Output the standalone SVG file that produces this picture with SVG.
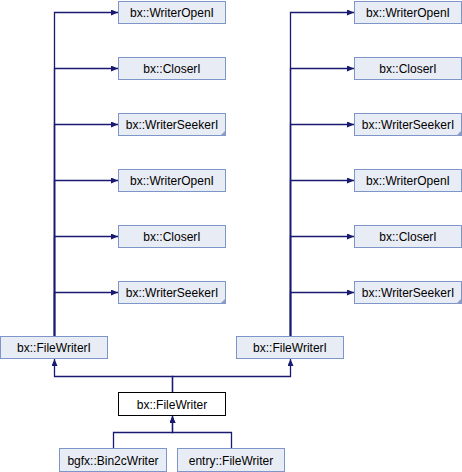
<svg xmlns="http://www.w3.org/2000/svg" width="462" height="472" viewBox="0 0 462 472">
<style>
.n rect{fill:#e8ecf5;stroke:#7d95c9;stroke-width:1}
.n.cur rect{fill:#ffffff;stroke:#000000}
.n text{font-family:"Liberation Sans",Arial,sans-serif;font-size:12px;fill:#000;text-anchor:middle}
.n path{fill:#8a9cc8;stroke:none}
#edges path{fill:none;stroke:#191970;stroke-width:1.3;marker-end:url(#ah)}
</style>
<defs>
<marker id="ah" markerUnits="userSpaceOnUse" markerWidth="8" markerHeight="7" refX="7" refY="3" orient="auto">
<path d="M0,0 L7,3 L0,6 z" fill="#191970"/>
</marker>
</defs>
<rect width="462" height="472" fill="#fff"/>
<g id="edges">
<path d="M54.5,336 V12.5 H118"/>
<path d="M54.5,336 V68.5 H118"/>
<path d="M54.5,336 V124.5 H118"/>
<path d="M54.5,336 V180.5 H118"/>
<path d="M54.5,336 V236.5 H118"/>
<path d="M54.5,336 V292.5 H118"/>
<path d="M290.5,336 V12.5 H354"/>
<path d="M290.5,336 V68.5 H354"/>
<path d="M290.5,336 V124.5 H354"/>
<path d="M290.5,336 V180.5 H354"/>
<path d="M290.5,336 V236.5 H354"/>
<path d="M290.5,336 V292.5 H354"/>
<path d="M172.5,392 V376.5 H54.5 V359"/>
<path d="M172.5,392 V376.5 H290.5 V359"/>
<path d="M113.5,448 V432.5 H172.5 V416"/>
<path d="M231.5,448 V432.5 H172.5 V416"/>
</g>
<g id="l_writeropen1" class="n"><rect x="118.5" y="1.5" width="107" height="22"/><text x="172" y="17">bx::WriterOpenI</text></g>
<g id="l_closer1" class="n"><rect x="118.5" y="57.5" width="107" height="22"/><text x="172" y="73">bx::CloserI</text></g>
<g id="l_seeker1" class="n"><rect x="118.5" y="113.5" width="107" height="22"/><text x="172" y="129">bx::WriterSeekerI</text><path d="M225.5,130.5 V135.5 H220.5 z"/></g>
<g id="l_writeropen2" class="n"><rect x="118.5" y="169.5" width="107" height="22"/><text x="172" y="185">bx::WriterOpenI</text></g>
<g id="l_closer2" class="n"><rect x="118.5" y="225.5" width="107" height="22"/><text x="172" y="241">bx::CloserI</text></g>
<g id="l_seeker2" class="n"><rect x="118.5" y="281.5" width="107" height="22"/><text x="172" y="297">bx::WriterSeekerI</text><path d="M225.5,298.5 V303.5 H220.5 z"/></g>
<g id="r_writeropen1" class="n"><rect x="354.5" y="1.5" width="107" height="22"/><text x="408" y="17">bx::WriterOpenI</text></g>
<g id="r_closer1" class="n"><rect x="354.5" y="57.5" width="107" height="22"/><text x="408" y="73">bx::CloserI</text></g>
<g id="r_seeker1" class="n"><rect x="354.5" y="113.5" width="107" height="22"/><text x="408" y="129">bx::WriterSeekerI</text><path d="M461.5,130.5 V135.5 H456.5 z"/></g>
<g id="r_writeropen2" class="n"><rect x="354.5" y="169.5" width="107" height="22"/><text x="408" y="185">bx::WriterOpenI</text></g>
<g id="r_closer2" class="n"><rect x="354.5" y="225.5" width="107" height="22"/><text x="408" y="241">bx::CloserI</text></g>
<g id="r_seeker2" class="n"><rect x="354.5" y="281.5" width="107" height="22"/><text x="408" y="297">bx::WriterSeekerI</text><path d="M461.5,298.5 V303.5 H456.5 z"/></g>
<g id="l_filewriteri" class="n"><rect x="0.5" y="336.5" width="107" height="22"/><text x="54" y="352">bx::FileWriterI</text></g>
<g id="r_filewriteri" class="n"><rect x="236.5" y="336.5" width="107" height="22"/><text x="290" y="352">bx::FileWriterI</text></g>
<g id="filewriter" class="n cur"><rect x="118.5" y="392.5" width="107" height="23"/><text x="172" y="408.5">bx::FileWriter</text></g>
<g id="bin2cwriter" class="n"><rect x="59.5" y="448.5" width="107" height="23"/><text x="113" y="464.5">bgfx::Bin2cWriter</text></g>
<g id="entryfilewriter" class="n"><rect x="177.5" y="448.5" width="107" height="23"/><text x="231" y="464.5">entry::FileWriter</text></g>
</svg>
